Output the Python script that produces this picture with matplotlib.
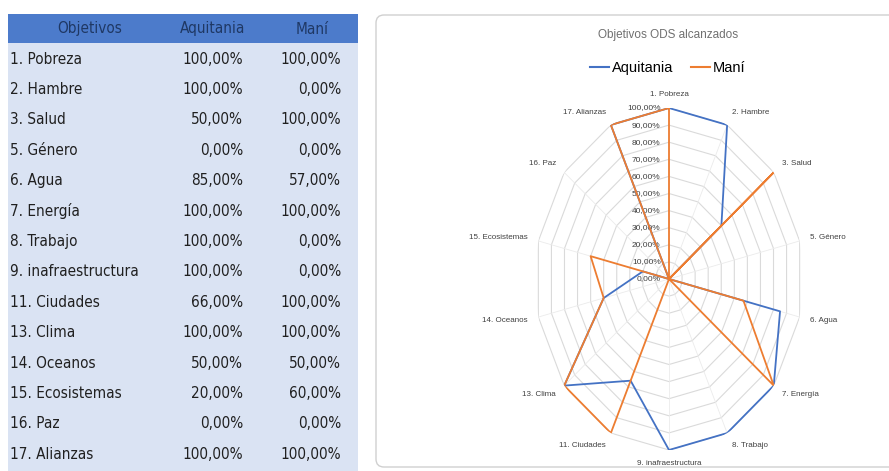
import numpy as np
import matplotlib
matplotlib.use("Agg")
import matplotlib.pyplot as plt
from matplotlib.patches import Rectangle, FancyBboxPatch
from matplotlib.lines import Line2D

objetivos = ["1. Pobreza", "2. Hambre", "3. Salud", "5. Género", "6. Agua",
             "7. Energía", "8. Trabajo", "9. inafraestructura", "11. Ciudades",
             "13. Clima", "14. Oceanos", "15. Ecosistemas", "16. Paz", "17. Alianzas"]
aquitania = [100, 100, 50, 0, 85, 100, 100, 100, 66, 100, 50, 20, 0, 100]
mani = [100, 0, 100, 0, 57, 100, 0, 0, 100, 100, 50, 60, 0, 100]
niveles = [0, 10, 20, 30, 40, 50, 60, 70, 80, 90, 100]

BLUE, ORANGE = "#4472C4", "#ED7D31"
FONT = ["DejaVu Sans"]
W, H = 889, 471


def pct(v):
    return f"{v:.2f}".replace(".", ",") + "%"


fig = plt.figure(figsize=(W / 100, H / 100), dpi=100)

# ---- table (pixel coordinates) ----
tb = fig.add_axes([0, 0, 1, 1])
tb.set_xlim(0, W); tb.set_ylim(H, 0); tb.axis("off")
tb.add_patch(Rectangle((8, 14), 350, 29, fc="#4C7BCB", ec="none"))
tb.add_patch(Rectangle((8, 43), 350, H - 43, fc="#DAE3F3", ec="none"))
hdr = dict(fontsize=11, color="#1F3864", va="center", family=FONT, fontstretch="condensed")
tb.text(90, 29, "Objetivos", ha="center", **hdr)
tb.text(213, 29, "Aquitania", ha="center", **hdr)
tb.text(312, 29, "Maní", ha="center", **hdr)
cell = dict(fontsize=11, color="#202020", va="center", family=FONT, fontstretch="condensed")
for i, (o, a, m) in enumerate(zip(objetivos, aquitania, mani)):
    y = 59 + i * 30.4
    tb.text(10, y, o, ha="left", **cell)
    tb.text(243, y, pct(a), ha="right", **cell)
    tb.text(341, y, pct(m), ha="right", **cell)

# ---- chart panel ----
tb.add_patch(FancyBboxPatch((376, 15), 530, 452, boxstyle="round,pad=0,rounding_size=8",
                            fc="white", ec="#D0D0D0", lw=1.0))
tb.text(668, 35, "Objetivos ODS alcanzados", ha="center", va="center",
        fontsize=8.5, color="#707070", family=["Liberation Sans"])

cx, cy, rx, ry = 669, 279, 134, 171
ax = fig.add_axes([(cx - rx) / W, (H - cy - ry) / H, 2 * rx / W, 2 * ry / H],
                  projection="polar")
ax.set_theta_zero_location("N")
ax.set_theta_direction(-1)
ax.set_ylim(0, 100)
ax.grid(False)
ax.spines["polar"].set_visible(False)
ax.set_xticks([]); ax.set_yticks([])
ax.patch.set_alpha(0)

theta = np.linspace(0, 2 * np.pi, len(objetivos), endpoint=False)
tc = np.append(theta, theta[0])
for lv in niveles[1:]:
    ax.plot(tc, [lv] * len(tc), color="#DADADA", lw=0.8, zorder=1)
for t in theta:
    ax.plot([t, t], [0, 100], color="#EBEBEB", lw=0.6, zorder=1)
for lv in niveles:
    ax.annotate(pct(lv), (0, lv), xytext=(-6, 0), textcoords="offset points",
                ha="right", va="center", fontsize=6, color="#404040",
                family=["Liberation Sans"])

ax.plot(tc, np.append(aquitania, aquitania[0]), color=BLUE, lw=1.3, zorder=3)
ax.plot(tc, np.append(mani, mani[0]), color=ORANGE, lw=1.3, zorder=4)
ax.set_aspect("auto")

for t, lab in zip(theta, objetivos):
    s = np.sin(t)
    ha = "center" if abs(s) < 0.1 else ("left" if s > 0 else "right")
    ax.text(t, 108, lab, ha=ha, va="center", fontsize=5.8, color="#404040",
            family=["Liberation Sans"])

handles = [Line2D([], [], color=BLUE, lw=1.5), Line2D([], [], color=ORANGE, lw=1.5)]
fig.legend(handles, ["Aquitania", "Maní"], loc="center", ncol=2,
           bbox_to_anchor=(668 / W, 1 - 68 / H), frameon=False,
           handlelength=1.3, handletextpad=0.2, columnspacing=1.2,
           prop={"family": ["Liberation Sans"], "size": 10.5})

fig.savefig("out.png", dpi=100)
